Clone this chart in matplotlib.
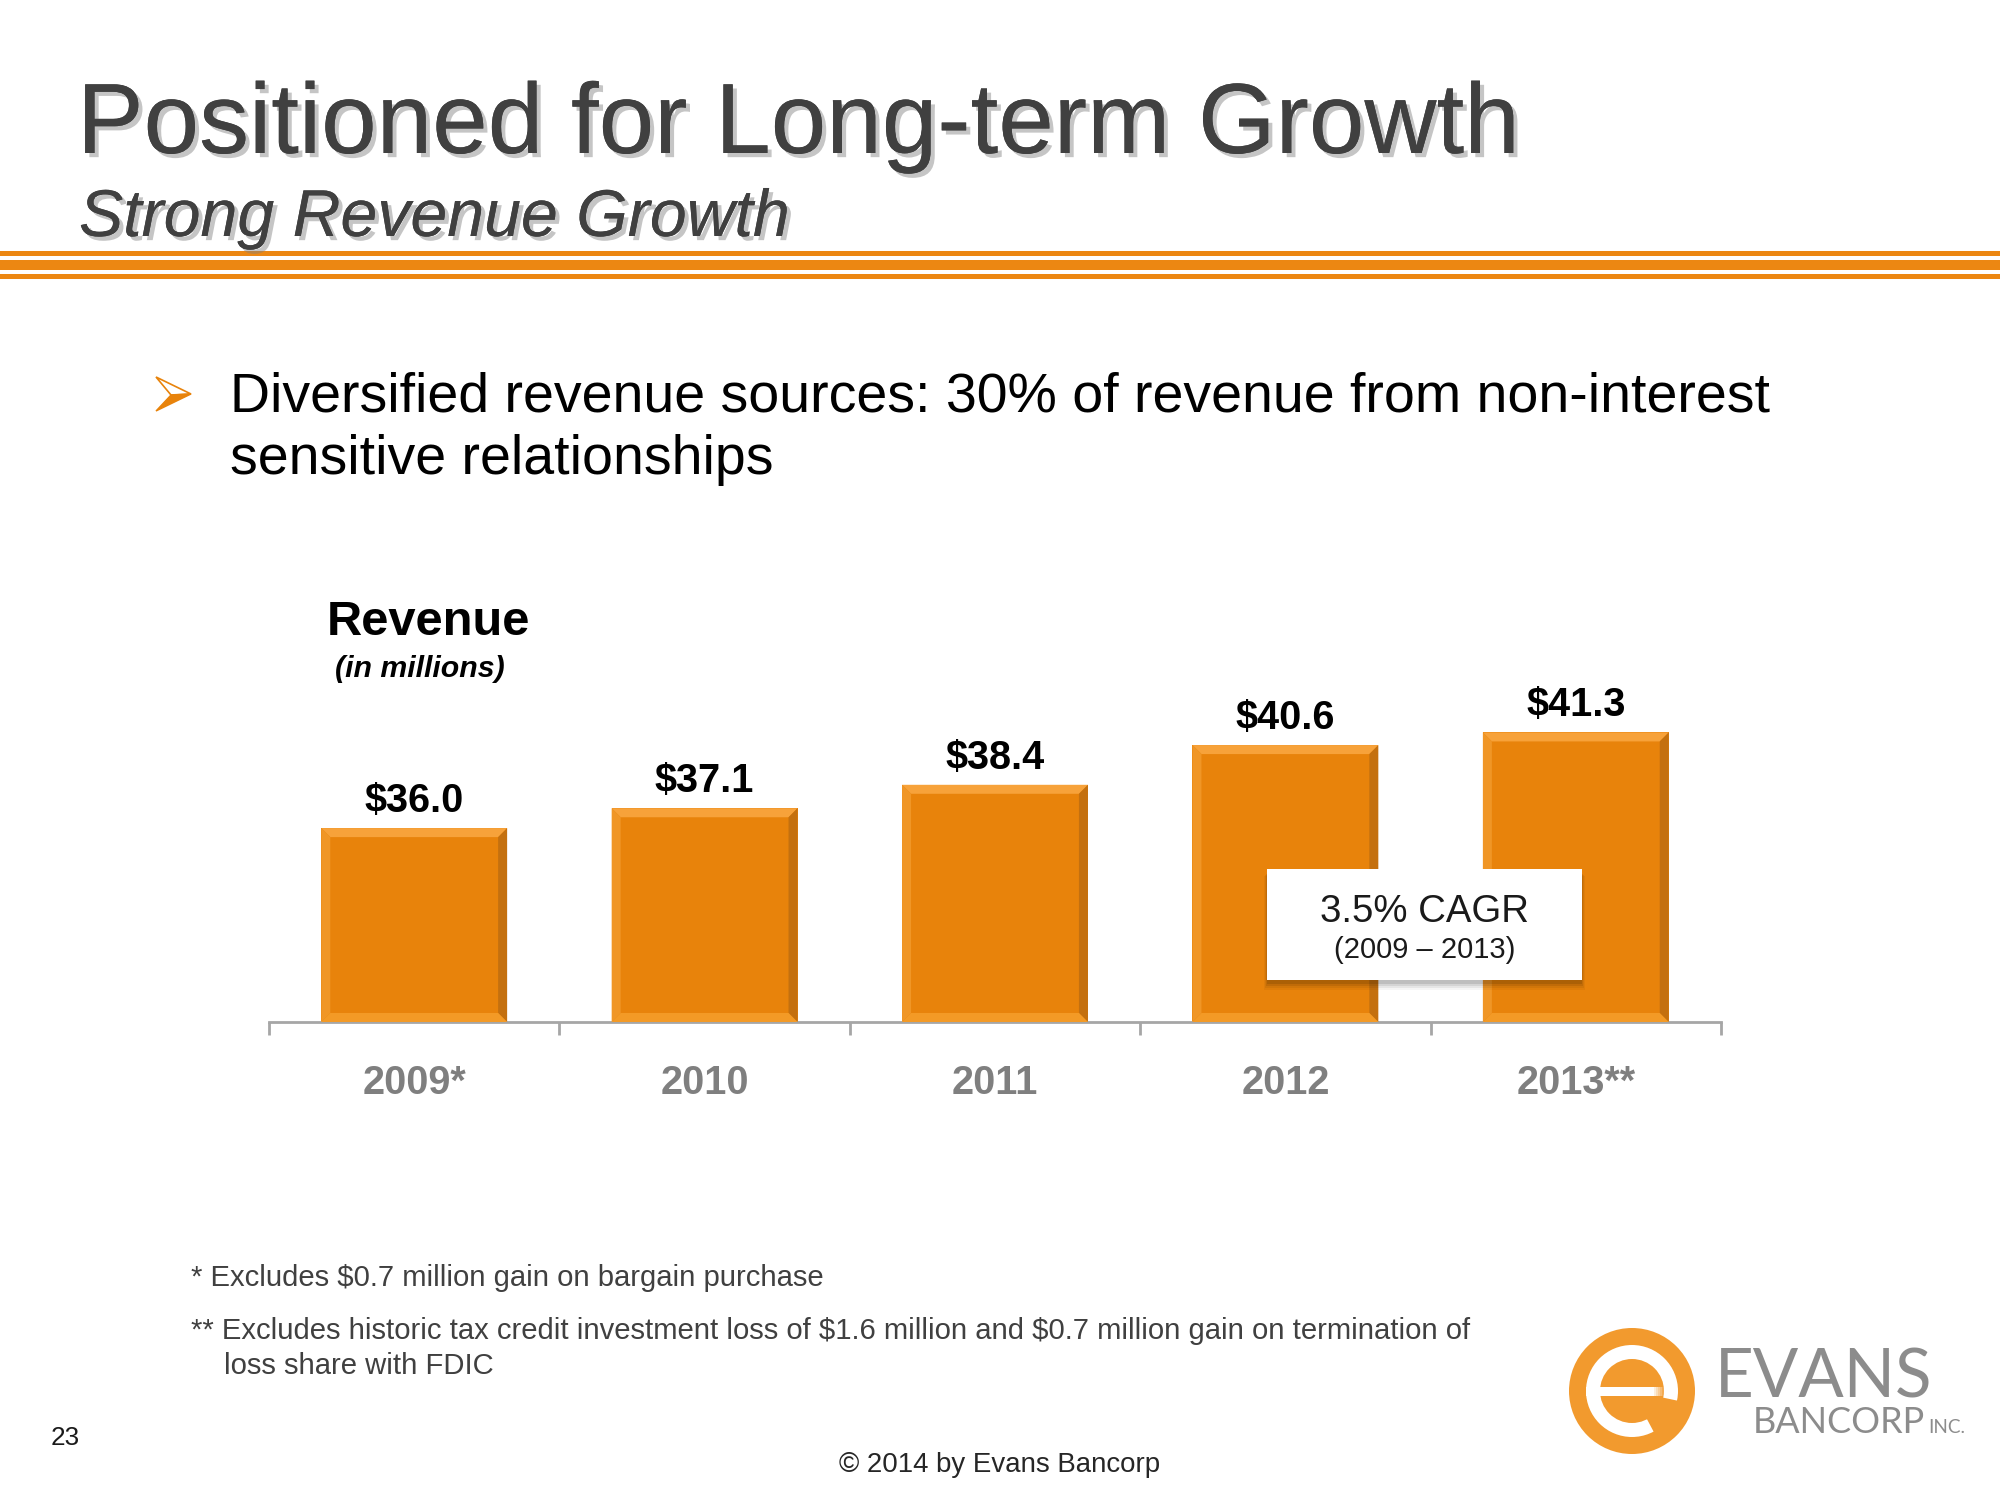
import numpy as np
import matplotlib.pyplot as plt
import matplotlib.patheffects as pe
from matplotlib.patches import Rectangle, Polygon, Circle, Wedge
from matplotlib.transforms import IdentityTransform

# chart data
years = ['2009*', '2010', '2011', '2012', '2013**']
revenue = [36.0, 37.1, 38.4, 40.6, 41.3]

title = 'Positioned for Long-term Growth'
subtitle = 'Strong Revenue Growth'
bullet_lines = ['Diversified revenue sources: 30% of revenue from non-interest',
                'sensitive relationships']
footnotes = ['* Excludes $0.7 million gain on bargain purchase',
             '** Excludes historic tax credit investment loss of $1.6 million and $0.7 million gain on termination of',
             'loss share with FDIC']
cagr_text = ['3.5% CAGR', '(2009 \u2013 2013)']

ORANGE = '#E8830B'
LOGO_ORANGE = '#F29A2E'
DARK = '#404040'

W, H = 2000, 1493
plt.rcParams['font.family'] = ['Liberation Sans', 'DejaVu Sans']
fig = plt.figure(figsize=(W / 100, H / 100), dpi=100)
renderer = fig.canvas.get_renderer()
PIX = IdentityTransform()


def fx(px):
    return px / W


def fy(py):
    return 1 - py / H


def put(x, y, s, width=None, size=20, **kw):
    # place text by pixel position (y from top), optionally sized to a pixel width
    t = fig.text(fx(x), fy(y), s, fontsize=size, va='baseline', parse_math=False, **kw)
    if width:
        w = t.get_window_extent(renderer).width
        t.set_fontsize(size * width / w)
    return t


def box(x0, y0, x1, y1, **kw):
    # rectangle given in top-left pixel coordinates
    r = Rectangle((x0, H - y1), x1 - x0, y1 - y0, transform=PIX, **kw)
    fig.add_artist(r)
    return r


# header
shadow = [pe.withSimplePatchShadow(offset=(3, -3), shadow_rgbFace='#808080', alpha=0.45), pe.Normal()]
put(77, 153, title, width=1439, color=DARK, path_effects=shadow)
put(79, 236, subtitle, width=709, color=DARK, style='italic', path_effects=shadow)
for y0, y1 in [(251, 256), (260, 270), (274, 279)]:
    box(0, y0, W, y1, color='#EC8712', lw=0)

# bullet arrow
tip, top_left, notch, bot_left = (191, 394), (156, 377), (171, 395), (156, 411)
to_pix = lambda pts: [(x, H - y) for x, y in pts]
fig.add_artist(Polygon(to_pix([top_left, tip, notch]), closed=True, facecolor='white',
                       edgecolor=ORANGE, lw=1.2, transform=PIX))
fig.add_artist(Polygon(to_pix([notch, tip, bot_left]), closed=True, facecolor=ORANGE,
                       edgecolor=ORANGE, lw=1.0, transform=PIX))

t1 = put(230, 412, bullet_lines[0], width=1537, color='black')
put(230, 474, bullet_lines[1], size=t1.get_fontsize(), color='black')

# chart labels
put(327, 635, 'Revenue', width=204, fontweight='bold', color='black')
put(335, 677, '(in millions)', width=170, fontweight='bold', style='italic', color='black')

# bar chart
ax = fig.add_axes([fx(269), fy(1022), (1721 - 269) / W, 374.4 / H])
x = np.arange(len(years))
bars = ax.bar(x, revenue, width=0.64, color=ORANGE, zorder=2)
ax.set_xlim(-0.5, len(years) - 0.5)
ax.set_ylim(25.26, 46)
for v, xi in zip(revenue, x):
    ax.annotate(f'${v:.1f}', (xi, v), xytext=(0, 16), textcoords='offset pixels',
                ha='center', va='baseline', fontsize=28.5, fontweight='bold', color='black')

for s in ['top', 'left', 'right']:
    ax.spines[s].set_visible(False)
ax.spines['bottom'].set_color('#A6A6A6')
ax.spines['bottom'].set_linewidth(2)
ax.set_yticks([])
ax.set_xticks(np.arange(-0.5, len(years), 1))
ax.set_xticklabels([])
ax.tick_params(axis='x', which='major', length=9, width=2, color='#A6A6A6')
ax.set_xticks(x, years, minor=True)
ax.tick_params(axis='x', which='minor', length=0, pad=30, labelsize=28.5, labelcolor='#7F7F7F')
for lbl in ax.get_xticklabels(minor=True):
    lbl.set_fontweight('bold')
ax.patch.set_alpha(0)

# bevel edges on bars (clipped to the axis floor)
b = 9
floor = ax.get_window_extent(renderer).y0
for p in bars:
    e = p.get_window_extent(renderer)
    x0, x1, y0, y1 = e.x0, e.x1, max(e.y0, floor), e.y1
    faces = [
        ([(x0, y1), (x1, y1), (x1 - b, y1 - b), (x0 + b, y1 - b)], '#F7A23A'),
        ([(x0, y0), (x0, y1), (x0 + b, y1 - b), (x0 + b, y0 + b)], '#F09626'),
        ([(x1, y0), (x1, y1), (x1 - b, y1 - b), (x1 - b, y0 + b)], '#C4700F'),
        ([(x0, y0), (x1, y0), (x1 - b, y0 + b), (x0 + b, y0 + b)], '#F39A26'),
    ]
    for pts, c in faces:
        fig.add_artist(Polygon(pts, closed=True, facecolor=c, lw=0, transform=PIX, zorder=1))

# CAGR callout
for k, a in enumerate([0.10, 0.08, 0.06, 0.04]):
    box(1267 - k, 869 + 4 + k, 1582 + k, 980 + 4 + 2 * k, color='black', alpha=a, lw=0, zorder=4)
box(1267, 869, 1582, 980, color='white', lw=0, zorder=5)
put(1425, 922, cagr_text[0], width=209, ha='center', color='#1A1A1A', zorder=6)
put(1425, 958, cagr_text[1], width=182, ha='center', color='#1A1A1A', zorder=6)

# footnotes
f2 = put(191, 1339, footnotes[1], width=1277, color=DARK)
fs = f2.get_fontsize()
put(191, 1286, footnotes[0], size=fs, color=DARK)
put(224, 1374, footnotes[2], size=fs, color=DARK)
put(51, 1445, '23', width=29, color='#1A1A1A')
put(1000, 1472, '\u00a9 2014 by Evans Bancorp', width=321, ha='center', color='#262626')

# logo
cx, cy = 1632, H - 1391
fig.add_artist(Circle((cx, cy), 63, color=LOGO_ORANGE, lw=0, transform=PIX))
fig.add_artist(Circle((cx, cy), 46, color='white', lw=0, transform=PIX))
fig.add_artist(Circle((cx, cy), 32, color=LOGO_ORANGE, lw=0, transform=PIX))
fig.add_artist(Wedge((cx, cy), 47, -62, -12, width=17, color=LOGO_ORANGE, lw=0, transform=PIX))
fig.add_artist(Rectangle((cx - 46, cy - 5), 66, 9, color='white', lw=0, transform=PIX))
for k in range(6):
    fig.add_artist(Rectangle((cx + 20 + 2 * k, cy - 5), 2, 9, color='white',
                             alpha=1 - k / 6, lw=0, transform=PIX))
logo_kw = dict(family=['Lato', 'DejaVu Sans'], color='#8C8C8C')
put(1715, 1398, 'EVANS', width=217, **logo_kw)
put(1753, 1433, 'BANCORP', width=172, **logo_kw)
put(1928, 1433, 'INC.', width=37, **logo_kw)

fig.savefig('out.png', dpi=100, facecolor='white')
